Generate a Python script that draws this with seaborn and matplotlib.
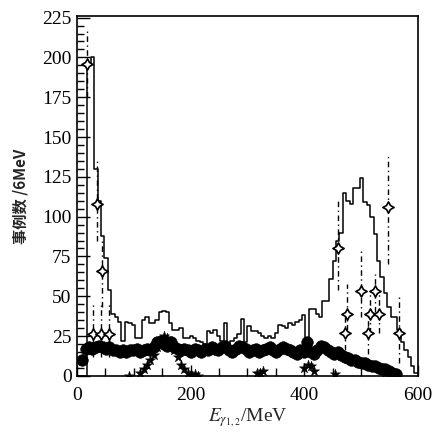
import numpy as np
import pandas as pd
import matplotlib
matplotlib.use("Agg")
import matplotlib.pyplot as plt
from matplotlib.ticker import MultipleLocator
import seaborn as sns

# ---- data ----
bin_width = 6
hist_vals = [0, 0, 0, 195, 200, 130, 110, 88, 74, 54,
             39, 37, 34, 22, 34, 33, 32, 24, 24, 35,
             37, 33, 33, 35, 40, 41, 40, 33, 29, 29,
             30, 24, 24, 25, 24, 22, 21, 20, 28, 27,
             29, 25, 22, 33, 20, 22, 24, 26, 36, 21,
             31, 28, 28, 27, 25, 24, 25, 24, 27, 32,
             31, 30, 33, 32, 34, 35, 38, 22, 42, 42,
             39, 37, 47, 47, 61, 72, 85, 90, 115, 110,
             108, 118, 118, 124, 109, 107, 100, 89, 72, 62,
             52, 43, 37, 37, 29, 21, 16, 12, 6, 2]

bkg_E = [9, 15, 21, 27, 33, 39, 45, 51, 57, 63, 69, 75, 81, 87, 93, 99, 105, 111,
         117, 123, 129, 135, 141, 147, 153, 159, 165, 171, 177, 183, 189, 195, 201,
         207, 213, 219, 225, 231, 237, 243, 249, 255, 261, 267, 273, 279, 285, 291,
         297, 303, 309, 315, 321, 327, 333, 339, 345, 351, 357, 363, 369, 375, 381,
         387, 393, 399, 405, 411, 417, 423, 429, 435, 441, 447, 453, 459, 465, 471,
         477, 483, 489, 495, 501, 507, 513, 519, 525, 531, 537, 543, 549, 555, 561]
bkg_vals = [10, 17, 18, 17, 18, 19, 18, 17, 18, 16, 16, 15, 16, 15, 16, 16, 17, 15,
            16, 17, 16, 18, 21, 22, 20, 19, 21, 18, 17, 16, 17, 16, 15,
            17, 16, 15, 17, 16, 18, 17, 16, 18, 19, 16, 15, 17, 19, 18,
            17, 15, 16, 17, 15, 16, 17, 18, 16, 15, 17, 18, 17, 16, 15,
            14, 16, 15, 21, 15, 14, 16, 19, 18, 16, 15, 14, 15, 13, 12,
            11, 10, 10, 9, 8, 8, 7, 6, 6, 5, 4, 4, 3, 2, 1]

star_E = [91, 111, 117, 123, 129, 135, 141, 147, 153, 159, 165, 171, 177, 183,
          189, 195, 201, 207, 213, 316, 322, 328, 400, 406, 412, 418, 455, 543]
star_vals = [0, 2, 4, 7, 10, 13, 18, 22, 25, 24, 20, 16, 12, 7,
             4, 2, 1, 1, 0, 2, 2, 3, 5, 7, 6, 3, 1, 2]

sig_E = [17, 35, 44, 28, 42, 56, 459, 476, 471, 500, 524, 516, 531, 513, 547, 566]
sig_vals = [196, 108, 66, 26, 26, 26, 80, 39, 27, 53, 53, 39, 39, 27, 106, 27]
sig_lo = [175, 85, 43, 12, 12, 12, 54, 29, 16, 37, 40, 27, 27, 14, 70, 8]
sig_hi = [218, 135, 85, 45, 45, 45, 110, 58, 40, 79, 64, 52, 52, 40, 138, 50]

x_ticks = [0, 200, 400, 600]
y_ticks = [0, 25, 50, 75, 100, 125, 150, 175, 200, 225]
xlabel = r'$E_{\gamma_{1,2}}$/MeV'
ylabel = '事例数 /6MeV'

# ---- plot ----
sns.set_theme(style='ticks')
plt.rcParams['font.family'] = ['Liberation Serif', 'DejaVu Serif']
plt.rcParams['mathtext.fontset'] = 'stix'

fig = plt.figure(figsize=(4.33, 4.33), dpi=100)
ax = fig.add_axes([0.178, 0.132, 0.787, 0.831])

edges = [i * bin_width for i in range(len(hist_vals) + 1)]
centers = [e + bin_width / 2 for e in edges[:-1]]
hist_df = pd.DataFrame({'E': centers, 'n': hist_vals})
sns.histplot(data=hist_df, x='E', weights='n', bins=edges, element='step', fill=False,
             color='black', linewidth=1.1, ax=ax)

sns.scatterplot(x=bkg_E, y=bkg_vals, color='black', s=70, edgecolor='black',
                linewidth=0.4, ax=ax, zorder=3)
sns.scatterplot(x=star_E, y=star_vals, marker='*', color='black', s=60,
                edgecolor='black', linewidth=0.3, ax=ax, zorder=3)

ax.vlines(sig_E, sig_lo, sig_hi, colors='black', linestyles=(0, (4, 2.5, 1, 2.5)),
          linewidth=1.0, zorder=2)
sns.scatterplot(x=sig_E, y=sig_vals, marker=(4, 1, 0), s=65, facecolor='white',
                edgecolor='black', linewidth=1.2, ax=ax, zorder=4)

ax.set_xlim(0, 600)
ax.set_ylim(0, 226)
ax.set_xticks(x_ticks)
ax.set_yticks(y_ticks)
ax.xaxis.set_minor_locator(MultipleLocator(50))
ax.yaxis.set_minor_locator(MultipleLocator(5))
ax.tick_params(axis='both', which='both', direction='in', top=False, right=False,
               colors='black', labelsize=14, width=1.0)
ax.tick_params(axis='y', which='major', length=9, pad=4)
ax.tick_params(axis='y', which='minor', length=5)
ax.tick_params(axis='x', which='major', length=8, pad=8)
ax.tick_params(axis='x', which='minor', length=6)
for sp in ax.spines.values():
    sp.set_visible(True)
    sp.set_color('black')
    sp.set_linewidth(1.2)

ax.set_xlabel(xlabel, fontsize=14, labelpad=2)
ax.set_ylabel(ylabel, fontsize=11, fontweight='bold',
              family=['Noto Sans CJK SC', 'DejaVu Sans'], labelpad=10)

fig.savefig('out.png', dpi=100, facecolor='white')
